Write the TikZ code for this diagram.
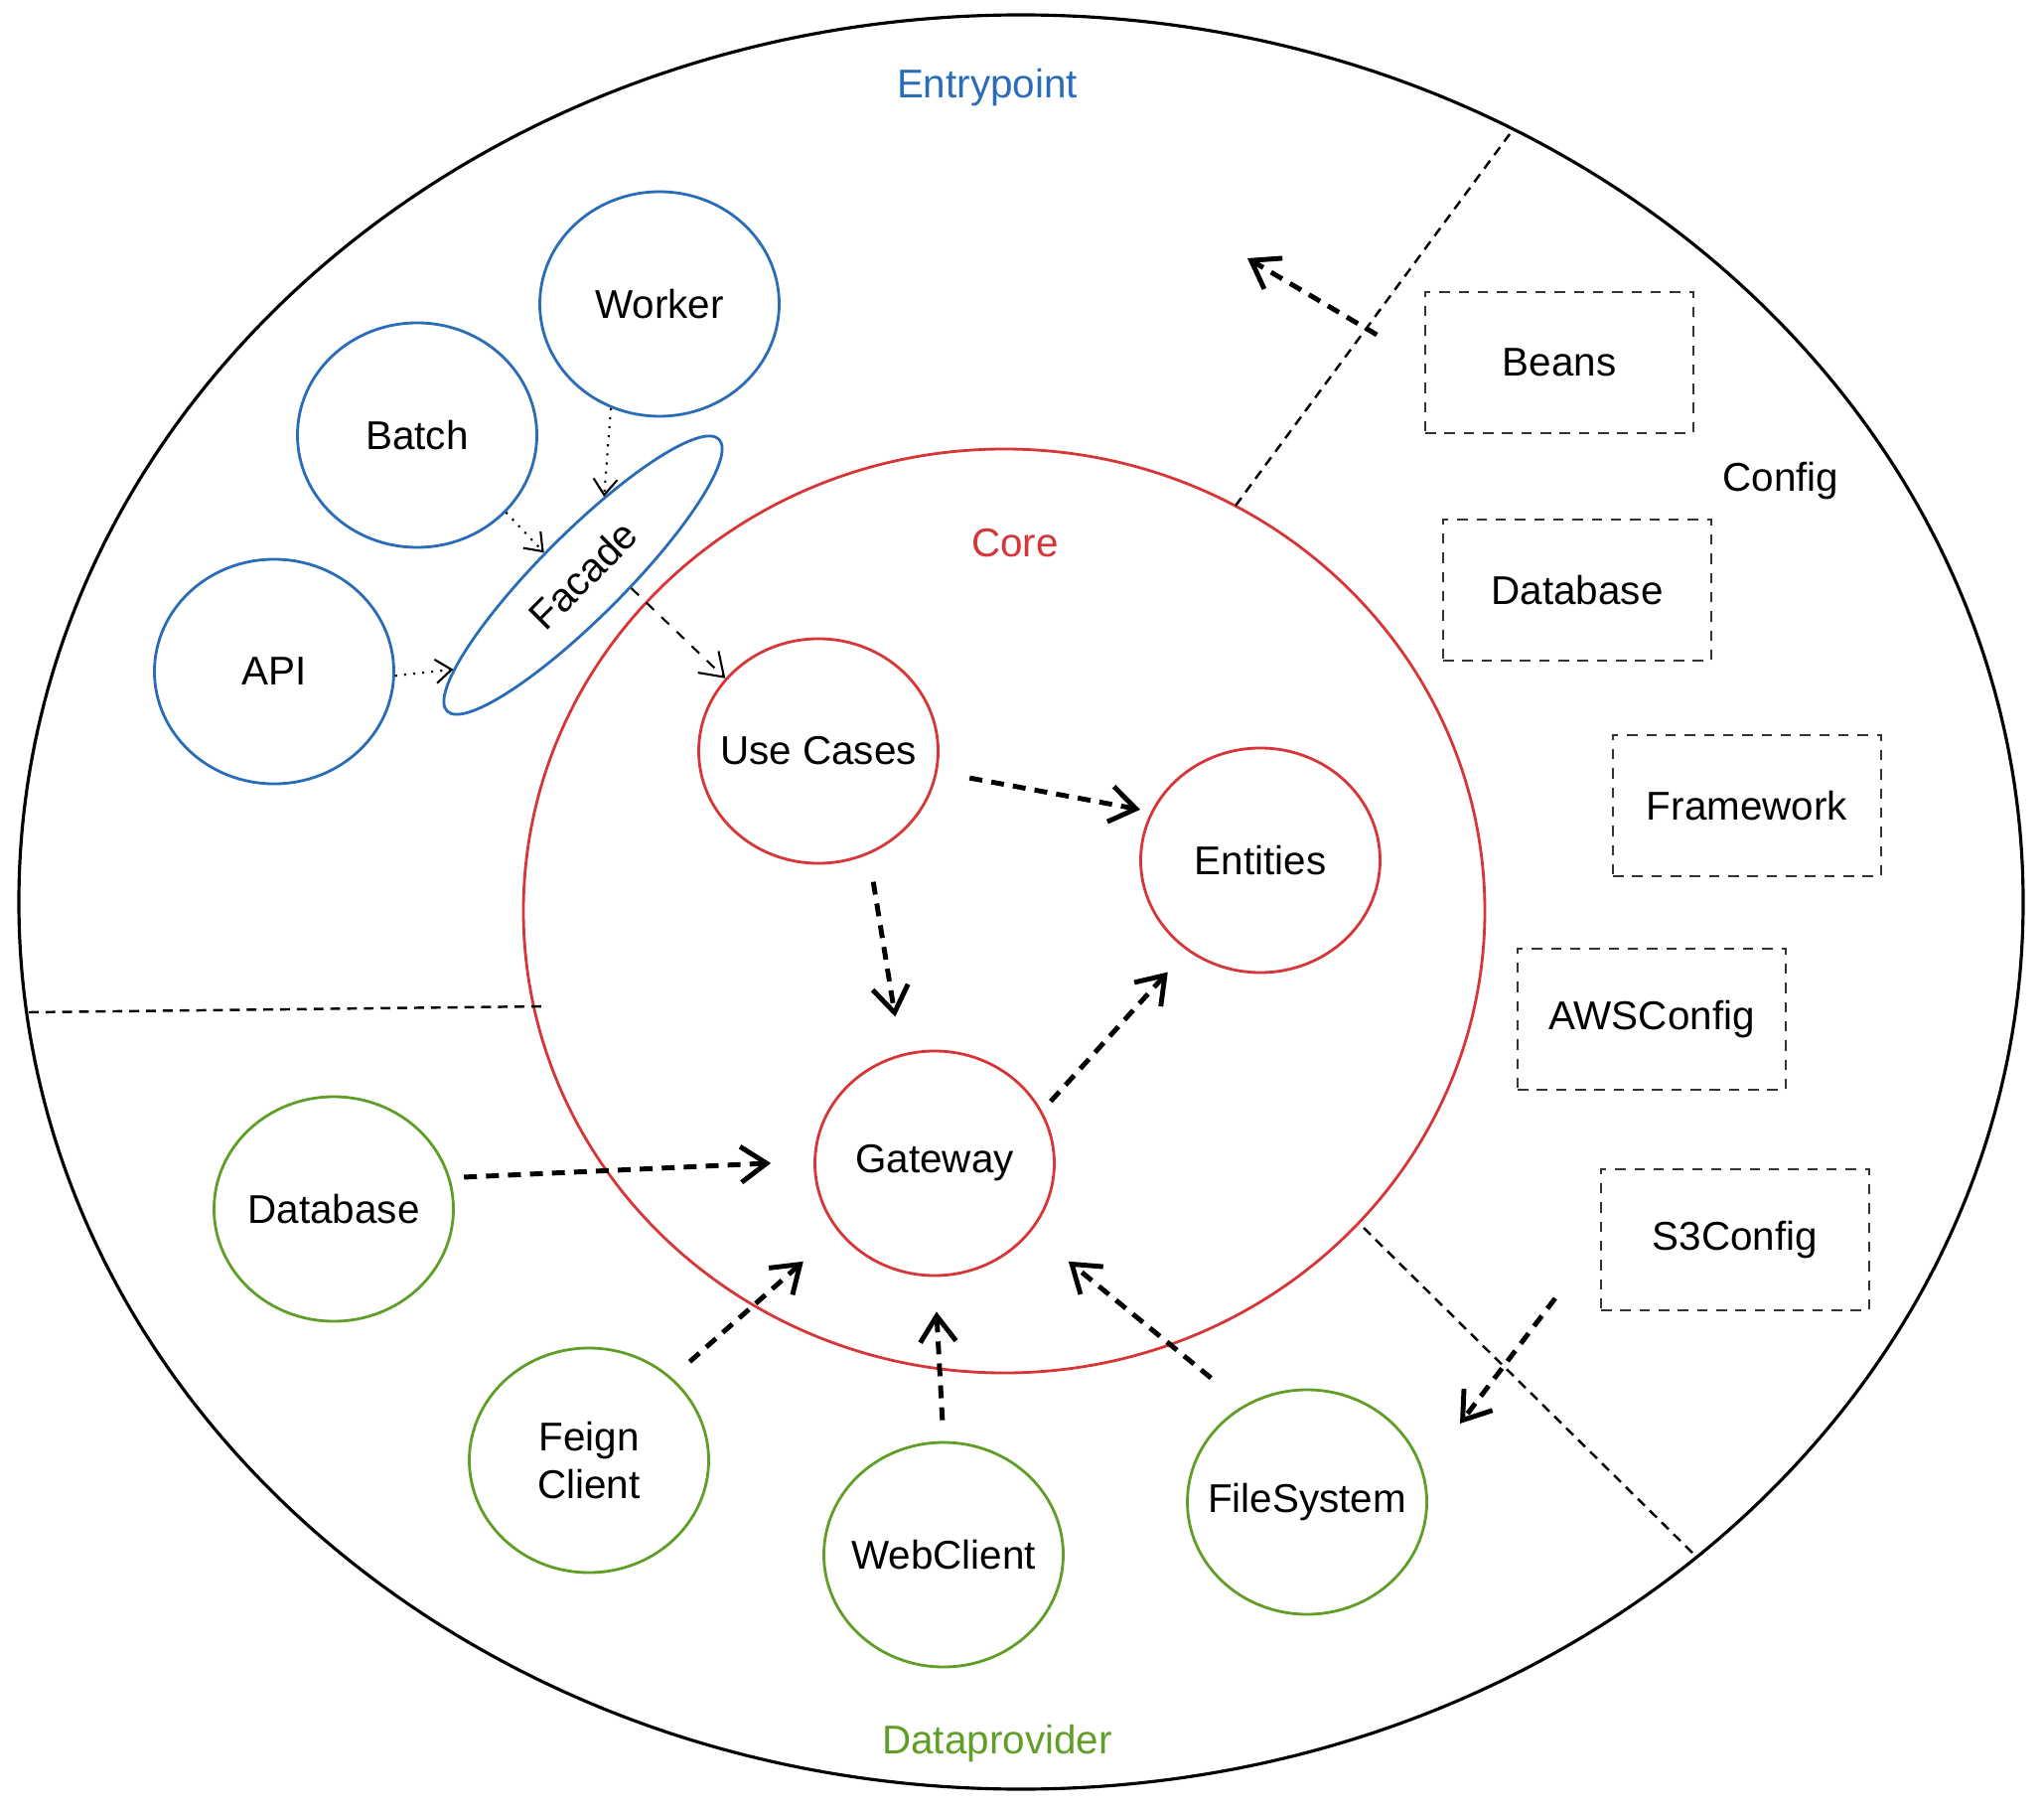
\documentclass[tikz,border=0pt]{standalone}
\usepackage{fontspec}
\setmainfont{Liberation Sans}
\usepackage{xcolor}
\usepackage{tikz}
\usetikzlibrary{arrows.meta, positioning, shapes.geometric}

\definecolor{entryblue}{RGB}{43,108,184}
\definecolor{corered}{RGB}{214,54,56}
\definecolor{providergreen}{RGB}{96,158,40}

\begin{document}
\begin{tikzpicture}[auto, >=latex, font=\fontsize{11.5}{13.5}\selectfont]
		\tikzstyle{round} = [draw, ellipse, line width=0.8pt, minimum width=2.41cm, minimum height=2.26cm, inner xsep=-0.3cm, inner ysep=0pt, align=center]
		\tikzstyle{entry} = [round, draw=entryblue]
		\tikzstyle{core} = [round, draw=corered]
		\tikzstyle{provider} = [round, draw=providergreen]
		\tikzstyle{config} = [draw=black!80, line width=0.8pt, dash pattern=on 3pt off 2.5pt, minimum width=2.7cm, minimum height=1.42cm]
		\tikzstyle{invis} = [draw=none]
		\tikzstyle{arrow} = [line width=1.4pt, dash pattern=on 3.7pt off 2.6pt, -{Straight Barb[length=2.6mm, width=3.6mm]}]
		\tikzstyle{hint} = [line width=0.6pt, dotted, -{Straight Barb[length=1.6mm, width=2.4mm]}]
		\tikzstyle{divider} = [line width=0.7pt, dash pattern=on 2.8pt off 2pt]
		
		\useasboundingbox (0,0) rectangle (20.58,18.2);
		
		% rings
		\draw[line width=0.9pt]				(10.28,9.12) ellipse (10.09 and 8.93);
		\draw[corered, line width=0.8pt]	(10.11,9.03) ellipse (4.84 and 4.65);
		
		\coordinate (d1a) at (12.44,13.11);
		\coordinate (d1b) at (15.20,16.85);
		\coordinate (d2a) at (0.29,8.01);
		\coordinate (d2b) at (5.49,8.07);
		\coordinate (d3a) at (13.73,5.84);
		\coordinate (d3b) at (17.09,2.52);
		\draw[divider] (d1a) -- (d1b);
		\draw[divider] (d2a) -- (d2b);
		\draw[divider] (d3a) -- (d3b);
		
		% layer names
		\node[invis, text=entryblue]		at (9.94, 17.32)	(lentry)	{Entrypoint};
		\node[invis, text=corered]			at (10.22, 12.73)	(lcore)		{Core};
		\node[invis, text=providergreen]	at (10.04, 0.65)	(lprov)		{Dataprovider};
		\node[invis]						at (17.93, 13.36)	(lconfig)	{Config};
		
		% entrypoint
		\node[entry]	at (6.64, 15.14)	(worker)	{Worker};
		\node[entry]	at (4.20, 13.82)	(batch)		{Batch};
		\node[entry]	at (2.76, 11.44)	(api)		{API};
		\node[entry, rotate=45, minimum width=3.87cm, minimum height=0.85cm]
						at (5.87, 12.41)	(facade)	{Facade};
		
		% core
		\node[core]		at (8.24, 10.64)	(uc)		{Use Cases};
		\node[core]		at (12.69, 9.54)	(ent)		{Entities};
		\node[core]		at (9.41, 6.49)		(gw)		{Gateway};
		
		% dataprovider
		\node[provider]	at (3.36, 6.03)		(db)		{Database};
		\node[provider]	at (5.93, 3.50)		(feign)		{Feign\\Client};
		\node[provider]	at (9.50, 2.55)		(web)		{WebClient};
		\node[provider]	at (13.16, 3.08)	(fs)		{FileSystem};
		
		% config
		\node[config]	at (15.70, 14.55)	(beans)		{Beans};
		\node[config]	at (15.88, 12.26)	(dbcfg)		{Database};
		\node[config]	at (17.59, 10.09)	(fw)		{Framework};
		\node[config]	at (16.63, 7.94)	(aws)		{AWSConfig};
		\node[config]	at (17.47, 5.72)	(s3cfg)		{S3Config};
		
		\coordinate (beansto)	at (12.56, 15.60);
		\coordinate (s3to)		at (14.70, 3.87);
		
		\path[hint]
		(worker.-115)	edge						(facade.30)
		(batch.-41)		edge						(facade.105)
		(api.-2)		edge						(facade.171);
		
		\path[line width=0.6pt, dashed, -{Straight Barb[length=2.2mm, width=3mm]}]
		(facade.-60)	edge						(uc.142);
		
		\path[arrow]
		(uc.-10)		edge	[shorten <=3.3mm, shorten >=1.1mm]	(ent.156)
		(uc.-64)		edge	[shorten <=2.8mm, shorten >=3.8mm]	(gw.107)
		(gw.26)			edge	[shorten <=1.3mm, shorten >=2.9mm]	(ent.231)
		(db.15)			edge	[shorten <=1.4mm, shorten >=4.3mm]	(gw.179)
		(feign.45)		edge	[shorten <=2.4mm, shorten >=4.6mm]	(gw.215)
		(web.north)		edge	[shorten <=2.1mm, shorten >=3.5mm]	(gw.south)
		(fs.123)		edge	[shorten <=4.3mm, shorten >=4.8mm]	(gw.-35)
		(beans.west)	edge	[shorten <=5.5mm]					(beansto)
		(s3cfg.west)	edge	[shorten <=7.4mm]					(s3to);
	\end{tikzpicture}
\end{document}
